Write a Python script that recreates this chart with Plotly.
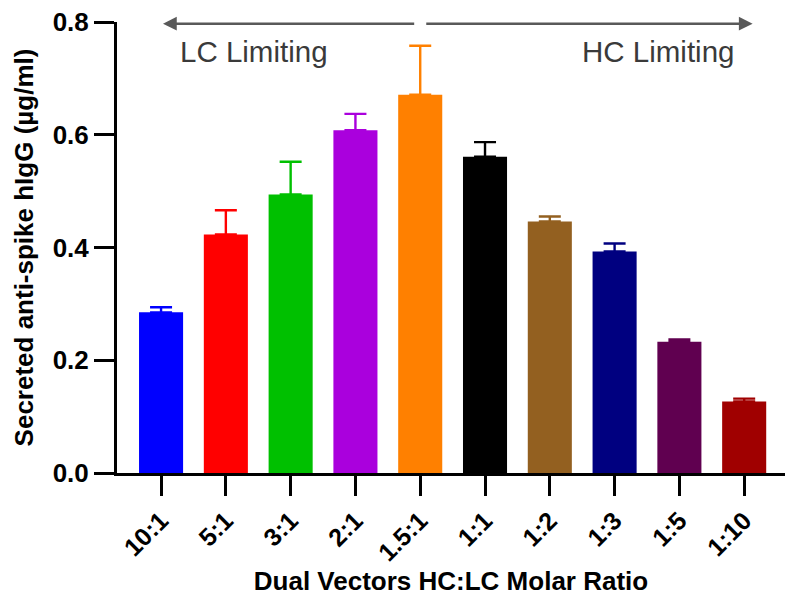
import plotly.graph_objects as go

categories = ["10:1", "5:1", "3:1", "2:1", "1.5:1", "1:1", "1:2", "1:3", "1:5", "1:10"]
means = [0.285, 0.423, 0.494, 0.608, 0.671, 0.561, 0.446, 0.393, 0.233, 0.127]
upper = [0.294, 0.466, 0.552, 0.637, 0.758, 0.587, 0.455, 0.407, 0.237, 0.132]
colors = ["#0000FF", "#FF0000", "#00C000", "#AA00DD", "#FF8000",
          "#000000", "#936020", "#000080", "#600050", "#A00000"]
y_ticks = [0.0, 0.2, 0.4, 0.6, 0.8]

FONT = "Liberation Sans, Arial, Helvetica, sans-serif"

fig = go.Figure()
for cat, m, u, c in zip(categories, means, upper, colors):
    fig.add_trace(go.Bar(
        x=[cat], y=[m], width=0.68,
        marker=dict(color=c, line=dict(width=0)),
        error_y=dict(type="data", array=[u - m], arrayminus=[0], symmetric=False,
                     color=c, thickness=2.4, width=11),
        showlegend=False,
    ))

arrow_color = "#595959"
fig.add_annotation(x=0.03, y=0.797, xref="x", yref="y", ax=3.93, ay=0.797, axref="x", ayref="y",
                   showarrow=True, arrowhead=2, arrowsize=1.1, arrowwidth=2.5, arrowcolor=arrow_color, text="")
fig.add_annotation(x=9.13, y=0.797, xref="x", yref="y", ax=4.07, ay=0.797, axref="x", ayref="y",
                   showarrow=True, arrowhead=2, arrowsize=1.1, arrowwidth=2.5, arrowcolor=arrow_color, text="")
fig.add_annotation(x=(254.5 - 117) / 64.8 - 0.68, y=0.748, xref="x", yref="y", text="LC Limiting",
                   showarrow=False, font=dict(family=FONT, size=29.5, color="#3a3a3a"))
fig.add_annotation(x=(658 - 117) / 64.8 - 0.68, y=0.748, xref="x", yref="y", text="HC Limiting",
                   showarrow=False, font=dict(family=FONT, size=29.5, color="#3a3a3a"))

fig.update_layout(
    width=785, height=598,
    margin=dict(l=117, r=0, t=22, b=125),
    paper_bgcolor="white", plot_bgcolor="white",
    barmode="overlay",
    font=dict(family=FONT, color="black"),
    xaxis=dict(
        type="category", categoryorder="array", categoryarray=categories,
        range=[-0.68, 9.63],
        showline=True, linecolor="black", linewidth=3,
        ticks="outside", ticklen=20, tickwidth=3, tickcolor="black",
        tickangle=-45, tickfont=dict(family=FONT, size=25, color="black", weight="bold"),
        showgrid=False, zeroline=False,
        title=dict(text="<b>Dual Vectors HC:LC Molar Ratio</b>", font=dict(family=FONT, size=26, color="black"), standoff=6),
    ),
    yaxis=dict(
        range=[0, 0.8], tickvals=y_ticks, tickformat=".1f",
        showline=True, linecolor="black", linewidth=3,
        ticks="outside", ticklen=20, tickwidth=3, tickcolor="black",
        tickfont=dict(family=FONT, size=26, color="black", weight="bold"),
        showgrid=False, zeroline=False,
        title=dict(text="<b>Secreted anti-spike hIgG (µg/ml)</b>", font=dict(family=FONT, size=26, color="black"), standoff=12),
    ),
)

fig.write_html("out.html")
